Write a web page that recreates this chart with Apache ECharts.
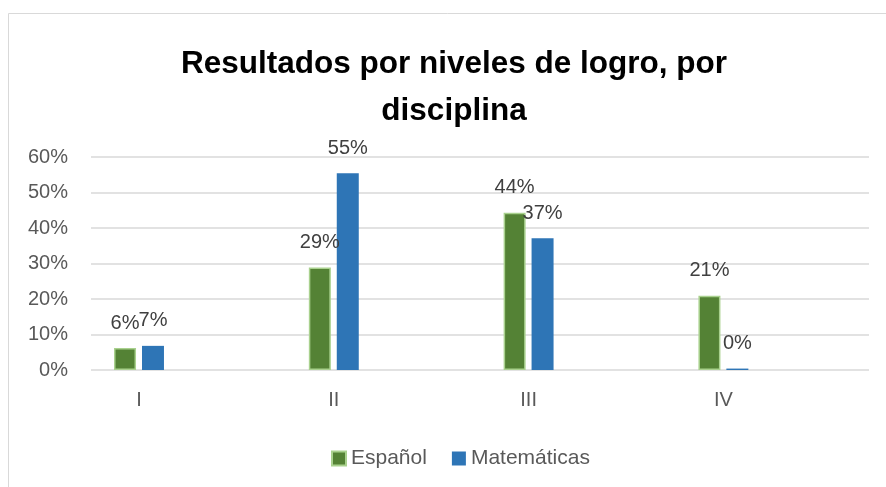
<!DOCTYPE html>
<html>
<head>
<meta charset="utf-8">
<script src="https://cdn.jsdelivr.net/npm/echarts@6/dist/echarts.min.js"></script>
<style>
  html, body { margin: 0; padding: 0; background: #ffffff; }
  #chart { width: 886px; height: 487px; }
</style>
</head>
<body>
<div id="chart"></div>
<script>
const titleText = 'Resultados por niveles de logro, por\ndisciplina';
const categories = ['I', 'II', 'III', 'IV'];
const seriesNames = ['Español', 'Matemáticas'];
const espanol = [0.062, 0.289, 0.443, 0.209];
const matematicas = [0.068, 0.554, 0.371, 0.004];
const yTickValues = [0, 0.1, 0.2, 0.3, 0.4, 0.5, 0.6];

const FONT = "'Liberation Sans', Arial, sans-serif";
const pct = v => Math.round(v * 100) + '%';

const chart = echarts.init(document.getElementById('chart'), null, { renderer: 'canvas' });

chart.setOption({
  animation: false,
  backgroundColor: '#ffffff',
  graphic: [{
    type: 'rect',
    silent: true,
    z: -10,
    shape: { x: 8.5, y: 13.5, width: 900, height: 500 },
    style: { fill: 'none', stroke: '#d9d9d9', lineWidth: 1 }
  }],
  title: {
    text: titleText,
    left: 449,
    top: 36,
    textAlign: 'center',
    textStyle: {
      fontFamily: FONT,
      fontWeight: 'bold',
      fontSize: 31.5,
      lineHeight: 47,
      color: '#000000'
    }
  },
  legend: {
    data: seriesNames,
    left: 326,
    top: 443,
    itemWidth: 14,
    itemHeight: 14,
    itemGap: 25,
    icon: 'rect',
    textStyle: { fontFamily: FONT, fontSize: 21, color: '#595959' }
  },
  grid: [
    { left: 91, right: 17, top: 157, height: 213 },
    { left: 41.6, width: 779.2, top: 157, height: 213 }
  ],
  xAxis: [
    { type: 'value', gridIndex: 0, show: false, min: 0, max: 1 },
    {
      type: 'category',
      gridIndex: 1,
      data: categories,
      axisLine: { show: false },
      axisTick: { show: false },
      axisLabel: { fontFamily: FONT, fontSize: 20, color: '#595959', margin: 20 }
    }
  ],
  yAxis: [
    {
      type: 'value',
      gridIndex: 0,
      min: yTickValues[0],
      max: yTickValues[yTickValues.length - 1],
      interval: 0.1,
      axisLine: { show: false },
      axisTick: { show: false },
      axisLabel: {
        fontFamily: FONT, fontSize: 20, color: '#595959', margin: 23,
        formatter: v => pct(v)
      },
      splitLine: { lineStyle: { color: '#d9d9d9', width: 1.5 } }
    },
    {
      type: 'value',
      gridIndex: 1,
      min: yTickValues[0],
      max: yTickValues[yTickValues.length - 1],
      show: false,
      splitLine: { show: false }
    }
  ],
  series: [
    {
      name: seriesNames[0],
      type: 'bar',
      xAxisIndex: 1,
      yAxisIndex: 1,
      data: espanol,
      barWidth: 22,
      barGap: '27%',
      itemStyle: { color: '#548235', borderColor: '#a9d18e', borderWidth: 1.5 },
      label: {
        show: true, position: 'top', distance: 15,
        fontFamily: FONT, fontSize: 20, color: '#404040',
        formatter: p => pct(p.value)
      }
    },
    {
      name: seriesNames[1],
      type: 'bar',
      xAxisIndex: 1,
      yAxisIndex: 1,
      data: matematicas,
      barWidth: 22,
      barGap: '27%',
      itemStyle: { color: '#2e75b6' },
      label: {
        show: true, position: 'top', distance: 15,
        fontFamily: FONT, fontSize: 20, color: '#404040',
        formatter: p => pct(p.value)
      }
    }
  ]
});
</script>
</body>
</html>
